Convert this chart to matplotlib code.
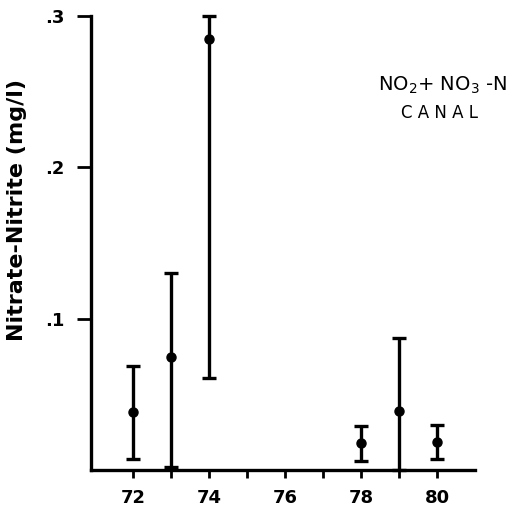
import matplotlib
matplotlib.use("Agg")
import matplotlib.pyplot as plt
import numpy as np

years = [72, 73, 74, 78, 79, 80]
means = [0.0384, 0.0748, 0.285, 0.018, 0.039, 0.0185]
upper = [0.069, 0.130, 0.300, 0.029, 0.087, 0.030]
lower = [0.0073, 0.002, 0.061, 0.006, 0.0, 0.0073]

xticks = [72, 74, 76, 78, 80]
xminor = [73, 75, 77, 79]
yticks = [0.1, 0.2, 0.3]
ytick_labels = [".1", ".2", ".3"]

plt.rcParams['font.family'] = ['DejaVu Sans']
fig = plt.figure(figsize=(5.32, 5.29), dpi=100)
ax = fig.add_axes([0.171, 0.1115, 0.722, 0.8585])

m = np.array(means)
yerr = np.vstack([m - np.array(lower), np.array(upper) - m])
ax.errorbar(years, means, yerr=yerr, fmt='o', color='black', ms=6.5,
            elinewidth=2.4, capsize=5, capthick=2.4, clip_on=False)

ax.set_xlim(70.9, 81.0)
ax.set_ylim(0, 0.3)
for s in ['top', 'right']:
    ax.spines[s].set_visible(False)
for s in ['left', 'bottom']:
    ax.spines[s].set_linewidth(2.4)

ax.set_xticks(xticks)
ax.set_xticklabels([str(t) for t in xticks], fontsize=13, fontweight='bold')
ax.set_xticks(xminor, minor=True)
ax.set_yticks(yticks)
ax.set_yticklabels(ytick_labels, fontsize=13, fontweight='bold')
ax.tick_params(axis='x', which='both', length=6, width=2, direction='out', pad=8)
ax.tick_params(axis='y', which='major', length=10, width=2, direction='out', pad=9)

ax.set_ylabel("Nitrate-Nitrite (mg/l)", fontsize=16, fontweight='bold')
ax.yaxis.set_label_coords(-0.167, 0.573)

fig.text(0.831, 0.838, r"NO$_2$+ NO$_3$ -N", fontsize=14, ha='center', va='center')
fig.text(0.826, 0.786, "C A N A L", fontsize=12, ha='center', va='center')

fig.savefig("out.png", dpi=100)
